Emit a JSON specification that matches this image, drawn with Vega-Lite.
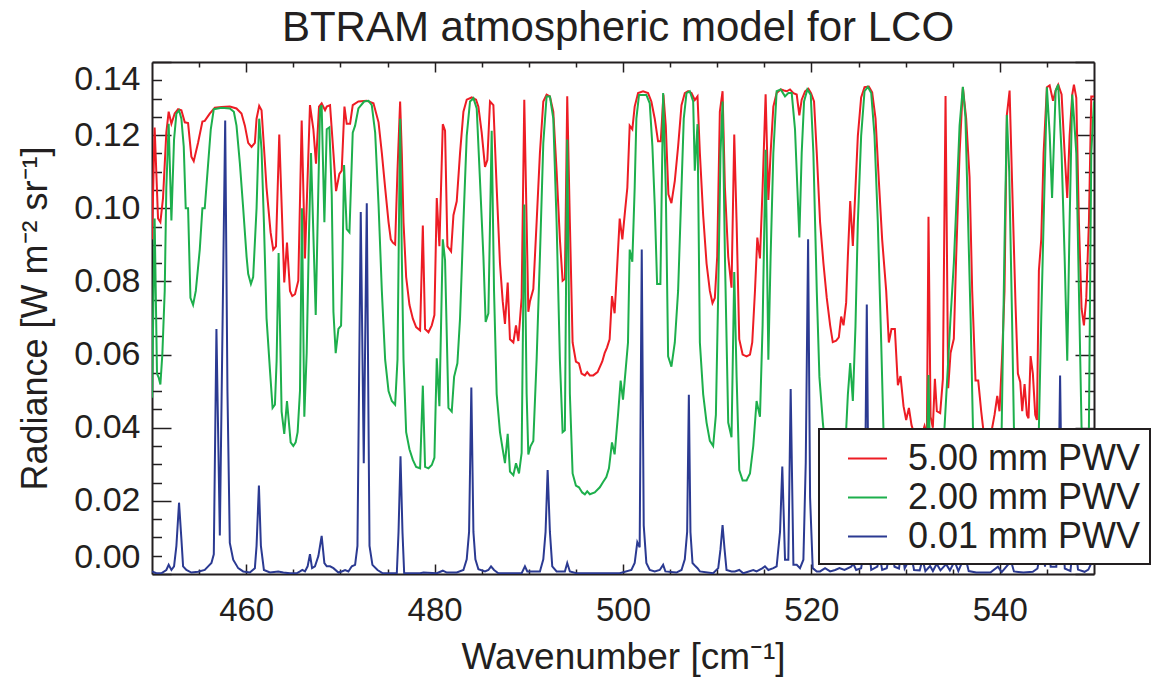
{
  "$schema": "https://vega.github.io/schema/vega-lite/v6.json",
  "width": 942,
  "height": 512,
  "autosize": {"type": "none"},
  "padding": {"left": 152, "top": 62, "right": 64, "bottom": 103},
  "background": "white",
  "config": {"view": {"stroke": null}, "font": "Liberation Sans"},
  "title": {"text": "BTRAM atmospheric model for LCO", "fontSize": 42, "font": "Liberation Sans", "fontWeight": "normal", "color": "#231F20", "anchor": "middle", "frame": "group", "baseline": "alphabetic", "offset": -22, "dx": -5},
  "datasets": {
    "red": [
      {"w":450.0,"r":0.0915},{"w":450.28,"r":0.1221},{"w":450.64,"r":0.0972},{"w":450.89,"r":0.0962},{"w":451.17,"r":0.1028},{"w":451.52,"r":0.1207},{"w":451.77,"r":0.1264},{"w":452.06,"r":0.1231},{"w":452.41,"r":0.1259},{"w":452.77,"r":0.1271},{"w":453.12,"r":0.1268},{"w":453.48,"r":0.1235},{"w":453.83,"r":0.1233},{"w":454.18,"r":0.1141},{"w":454.43,"r":0.1129},{"w":454.89,"r":0.1179},{"w":455.35,"r":0.1237},{"w":455.6,"r":0.1239},{"w":456.13,"r":0.1259},{"w":456.67,"r":0.1275},{"w":457.38,"r":0.1277},{"w":458.26,"r":0.1278},{"w":458.97,"r":0.1273},{"w":459.5,"r":0.1259},{"w":459.86,"r":0.1226},{"w":460.21,"r":0.1179},{"w":460.57,"r":0.1168},{"w":460.92,"r":0.1179},{"w":461.1,"r":0.1245},{"w":461.38,"r":0.128},{"w":461.63,"r":0.1268},{"w":461.88,"r":0.1169},{"w":462.16,"r":0.1056},{"w":462.59,"r":0.0934},{"w":462.87,"r":0.0887},{"w":463.16,"r":0.0896},{"w":463.51,"r":0.1202},{"w":464.04,"r":0.0797},{"w":464.33,"r":0.0906},{"w":464.65,"r":0.0774},{"w":464.89,"r":0.076},{"w":465.18,"r":0.0765},{"w":465.53,"r":0.0802},{"w":465.89,"r":0.124},{"w":466.24,"r":0.0863},{"w":466.77,"r":0.1282},{"w":467.13,"r":0.1216},{"w":467.41,"r":0.1122},{"w":467.73,"r":0.1278},{"w":468.01,"r":0.1287},{"w":468.37,"r":0.1268},{"w":468.55,"r":0.1278},{"w":468.9,"r":0.1282},{"w":469.26,"r":0.1151},{"w":469.54,"r":0.1047},{"w":469.89,"r":0.1094},{"w":470.14,"r":0.1103},{"w":470.43,"r":0.1278},{"w":470.67,"r":0.1231},{"w":471.03,"r":0.1231},{"w":471.31,"r":0.1282},{"w":471.91,"r":0.1292},{"w":472.8,"r":0.1294},{"w":473.51,"r":0.1287},{"w":474.05,"r":0.1235},{"w":474.4,"r":0.1151},{"w":474.75,"r":0.1056},{"w":475.11,"r":0.0962},{"w":475.35,"r":0.0915},{"w":475.57,"r":0.0906},{"w":475.81,"r":0.0901},{"w":476.06,"r":0.1103},{"w":476.34,"r":0.1292},{"w":476.52,"r":0.1151},{"w":476.7,"r":0.0962},{"w":476.98,"r":0.0812},{"w":477.33,"r":0.0736},{"w":477.69,"r":0.0698},{"w":478.04,"r":0.0675},{"w":478.46,"r":0.0666},{"w":478.75,"r":0.0953},{"w":478.99,"r":0.067},{"w":479.35,"r":0.0661},{"w":479.7,"r":0.068},{"w":479.98,"r":0.0708},{"w":480.23,"r":0.1028},{"w":480.51,"r":0.0896},{"w":480.87,"r":0.123},{"w":481.11,"r":0.1212},{"w":481.36,"r":0.0896},{"w":481.75,"r":0.0882},{"w":482.0,"r":0.0981},{"w":482.35,"r":0.1019},{"w":482.7,"r":0.1151},{"w":483.06,"r":0.1264},{"w":483.41,"r":0.1297},{"w":483.94,"r":0.1303},{"w":484.4,"r":0.1297},{"w":484.65,"r":0.1278},{"w":485.0,"r":0.1207},{"w":485.35,"r":0.1113},{"w":485.6,"r":0.1132},{"w":485.88,"r":0.1292},{"w":486.24,"r":0.1282},{"w":486.59,"r":0.1056},{"w":486.94,"r":0.0849},{"w":487.23,"r":0.0746},{"w":487.47,"r":0.0684},{"w":487.76,"r":0.0797},{"w":488.0,"r":0.0642},{"w":488.36,"r":0.0633},{"w":488.64,"r":0.068},{"w":488.89,"r":0.0637},{"w":489.24,"r":0.0755},{"w":489.52,"r":0.1297},{"w":489.77,"r":0.0962},{"w":489.95,"r":0.0717},{"w":490.12,"r":0.0745},{"w":490.48,"r":0.0779},{"w":490.83,"r":0.0962},{"w":491.18,"r":0.1151},{"w":491.54,"r":0.1292},{"w":491.89,"r":0.1311},{"w":492.24,"r":0.1306},{"w":492.6,"r":0.1264},{"w":492.95,"r":0.1103},{"w":493.3,"r":0.0915},{"w":493.59,"r":0.0802},{"w":493.83,"r":0.0807},{"w":494.08,"r":0.1306},{"w":494.36,"r":0.0962},{"w":494.65,"r":0.0633},{"w":495.0,"r":0.0581},{"w":495.32,"r":0.0576},{"w":495.6,"r":0.0548},{"w":495.95,"r":0.0543},{"w":496.2,"r":0.0552},{"w":496.48,"r":0.0543},{"w":496.84,"r":0.0543},{"w":497.3,"r":0.0552},{"w":497.8,"r":0.0581},{"w":498.05,"r":0.0604},{"w":498.3,"r":0.0619},{"w":498.58,"r":0.0642},{"w":498.83,"r":0.076},{"w":499.11,"r":0.0713},{"w":499.36,"r":0.0831},{"w":499.65,"r":0.0972},{"w":499.93,"r":0.0915},{"w":500.21,"r":0.0991},{"w":500.46,"r":0.1056},{"w":500.71,"r":0.1226},{"w":500.99,"r":0.1216},{"w":501.24,"r":0.1278},{"w":501.6,"r":0.1315},{"w":502.13,"r":0.132},{"w":502.66,"r":0.1315},{"w":503.01,"r":0.1292},{"w":503.37,"r":0.1245},{"w":503.72,"r":0.1183},{"w":504.01,"r":0.1183},{"w":504.29,"r":0.1311},{"w":504.54,"r":0.1226},{"w":504.82,"r":0.1038},{"w":505.14,"r":0.1014},{"w":505.5,"r":0.1075},{"w":505.85,"r":0.1169},{"w":506.21,"r":0.1282},{"w":506.56,"r":0.1315},{"w":506.91,"r":0.132},{"w":507.27,"r":0.1315},{"w":507.62,"r":0.1296},{"w":507.91,"r":0.1306},{"w":508.16,"r":0.1151},{"w":508.51,"r":0.0981},{"w":508.87,"r":0.0849},{"w":509.22,"r":0.0774},{"w":509.5,"r":0.0741},{"w":509.75,"r":0.0755},{"w":510.0,"r":0.0868},{"w":510.28,"r":0.1264},{"w":510.57,"r":0.132},{"w":510.82,"r":0.1056},{"w":511.17,"r":0.0868},{"w":511.52,"r":0.0783},{"w":511.81,"r":0.1202},{"w":512.06,"r":0.0962},{"w":512.34,"r":0.0642},{"w":512.7,"r":0.06},{"w":513.12,"r":0.0595},{"w":513.48,"r":0.06},{"w":513.72,"r":0.0633},{"w":514.01,"r":0.0774},{"w":514.26,"r":0.092},{"w":514.54,"r":0.0863},{"w":514.82,"r":0.1056},{"w":515.14,"r":0.1312},{"w":515.43,"r":0.1023},{"w":515.67,"r":0.1151},{"w":515.96,"r":0.1278},{"w":516.31,"r":0.1315},{"w":516.74,"r":0.1325},{"w":517.09,"r":0.1322},{"w":517.38,"r":0.132},{"w":517.73,"r":0.1325},{"w":518.09,"r":0.1315},{"w":518.44,"r":0.1311},{"w":518.72,"r":0.1254},{"w":518.97,"r":0.1297},{"w":519.33,"r":0.132},{"w":519.68,"r":0.1327},{"w":519.96,"r":0.1315},{"w":520.28,"r":0.1292},{"w":520.57,"r":0.1151},{"w":520.92,"r":0.0962},{"w":521.28,"r":0.0849},{"w":521.63,"r":0.0755},{"w":521.99,"r":0.068},{"w":522.27,"r":0.0634},{"w":522.63,"r":0.0638},{"w":522.91,"r":0.0647},{"w":523.16,"r":0.0704},{"w":523.41,"r":0.068},{"w":523.69,"r":0.0742},{"w":523.87,"r":0.0868},{"w":524.12,"r":0.102},{"w":524.4,"r":0.0897},{"w":524.68,"r":0.1056},{"w":524.93,"r":0.1198},{"w":525.28,"r":0.1303},{"w":525.64,"r":0.1331},{"w":526.1,"r":0.1333},{"w":526.45,"r":0.1317},{"w":526.81,"r":0.1245},{"w":527.16,"r":0.1075},{"w":527.51,"r":0.0915},{"w":527.94,"r":0.0774},{"w":528.22,"r":0.0633},{"w":528.5,"r":0.067},{"w":528.86,"r":0.067},{"w":529.18,"r":0.0516},{"w":529.46,"r":0.0541},{"w":529.78,"r":0.0459},{"w":530.06,"r":0.0421},{"w":530.35,"r":0.0454},{"w":530.63,"r":0.0407},{"w":530.95,"r":0.038},{"w":531.19,"r":0.037},{"w":531.48,"r":0.036},{"w":532.01,"r":0.0405},{"w":532.26,"r":0.038},{"w":532.43,"r":0.0977},{"w":532.65,"r":0.043},{"w":532.89,"r":0.04},{"w":533.11,"r":0.0534},{"w":533.32,"r":0.0445},{"w":533.67,"r":0.044},{"w":533.96,"r":0.0534},{"w":534.24,"r":0.1307},{"w":534.52,"r":0.0508},{"w":534.77,"r":0.0604},{"w":535.12,"r":0.0643},{"w":535.37,"r":0.0868},{"w":535.73,"r":0.115},{"w":536.08,"r":0.1331},{"w":536.43,"r":0.1245},{"w":536.79,"r":0.1085},{"w":537.07,"r":0.0774},{"w":537.42,"r":0.0529},{"w":537.71,"r":0.0529},{"w":538.03,"r":0.0444},{"w":538.27,"r":0.039},{"w":538.6,"r":0.035},{"w":538.9,"r":0.036},{"w":539.19,"r":0.04},{"w":539.44,"r":0.0435},{"w":539.73,"r":0.0487},{"w":539.97,"r":0.0445},{"w":540.26,"r":0.0604},{"w":540.5,"r":0.0774},{"w":540.75,"r":0.1255},{"w":541.04,"r":0.1322},{"w":541.32,"r":0.1056},{"w":541.67,"r":0.0736},{"w":541.92,"r":0.0548},{"w":542.17,"r":0.0525},{"w":542.38,"r":0.0445},{"w":542.63,"r":0.0519},{"w":542.88,"r":0.0435},{"w":543.05,"r":0.0426},{"w":543.27,"r":0.0596},{"w":543.51,"r":0.0548},{"w":543.76,"r":0.0435},{"w":543.94,"r":0.0421},{"w":544.15,"r":0.083},{"w":544.4,"r":0.0915},{"w":544.65,"r":0.1151},{"w":545.0,"r":0.1331},{"w":545.29,"r":0.1336},{"w":545.65,"r":0.1294},{"w":545.93,"r":0.1322},{"w":546.2,"r":0.1338},{"w":546.56,"r":0.1311},{"w":546.88,"r":0.1151},{"w":547.16,"r":0.1028},{"w":547.41,"r":0.1198},{"w":547.69,"r":0.1311},{"w":547.87,"r":0.1338},{"w":548.12,"r":0.1302},{"w":548.4,"r":0.0962},{"w":548.68,"r":0.0726},{"w":548.93,"r":0.068},{"w":549.18,"r":0.0755},{"w":549.46,"r":0.0962},{"w":549.71,"r":0.1306},{"w":550.0,"r":0.1306}
    ],
    "green": [
      {"w":450.0,"r":0.0482},{"w":450.28,"r":0.0972},{"w":450.53,"r":0.0548},{"w":450.71,"r":0.0537},{"w":450.89,"r":0.0518},{"w":451.1,"r":0.0602},{"w":451.35,"r":0.0774},{"w":451.52,"r":0.1056},{"w":451.77,"r":0.1231},{"w":452.06,"r":0.0967},{"w":452.34,"r":0.1188},{"w":452.59,"r":0.1259},{"w":452.87,"r":0.1268},{"w":453.12,"r":0.1245},{"w":453.37,"r":0.1169},{"w":453.58,"r":0.1},{"w":453.83,"r":0.1},{"w":454.08,"r":0.0755},{"w":454.36,"r":0.0736},{"w":454.65,"r":0.0774},{"w":455.07,"r":0.0887},{"w":455.35,"r":0.1},{"w":455.6,"r":0.1},{"w":455.96,"r":0.1122},{"w":456.24,"r":0.1216},{"w":456.56,"r":0.1271},{"w":457.38,"r":0.1275},{"w":458.26,"r":0.1273},{"w":458.69,"r":0.1264},{"w":458.97,"r":0.1226},{"w":459.33,"r":0.1122},{"w":459.68,"r":0.1},{"w":460.04,"r":0.0868},{"w":460.21,"r":0.0821},{"w":460.5,"r":0.0793},{"w":460.74,"r":0.0812},{"w":461.1,"r":0.1},{"w":461.38,"r":0.1245},{"w":461.63,"r":0.116},{"w":461.88,"r":0.0962},{"w":462.16,"r":0.0699},{"w":462.52,"r":0.0558},{"w":462.8,"r":0.0454},{"w":463.05,"r":0.0463},{"w":463.23,"r":0.0584},{"w":463.44,"r":0.0878},{"w":463.76,"r":0.0444},{"w":464.04,"r":0.0383},{"w":464.33,"r":0.0473},{"w":464.72,"r":0.036},{"w":465.0,"r":0.035},{"w":465.25,"r":0.036},{"w":465.46,"r":0.0388},{"w":465.71,"r":0.0501},{"w":465.92,"r":0.1},{"w":466.17,"r":0.043},{"w":466.42,"r":0.0604},{"w":466.67,"r":0.0934},{"w":466.88,"r":0.1151},{"w":467.38,"r":0.0708},{"w":467.66,"r":0.1056},{"w":467.84,"r":0.1273},{"w":468.01,"r":0.1282},{"w":468.3,"r":0.0962},{"w":468.55,"r":0.1216},{"w":468.83,"r":0.1221},{"w":469.08,"r":0.1038},{"w":469.26,"r":0.0717},{"w":469.5,"r":0.0604},{"w":469.79,"r":0.067},{"w":470.07,"r":0.0679},{"w":470.21,"r":0.084},{"w":470.39,"r":0.1118},{"w":470.67,"r":0.0943},{"w":470.96,"r":0.0934},{"w":471.31,"r":0.1207},{"w":471.56,"r":0.1226},{"w":471.91,"r":0.1273},{"w":472.52,"r":0.1292},{"w":472.98,"r":0.1294},{"w":473.33,"r":0.1282},{"w":473.69,"r":0.1207},{"w":474.05,"r":0.1009},{"w":474.4,"r":0.0774},{"w":474.75,"r":0.0586},{"w":475.11,"r":0.05},{"w":475.46,"r":0.0473},{"w":475.81,"r":0.0463},{"w":476.06,"r":0.0586},{"w":476.34,"r":0.1245},{"w":476.52,"r":0.0868},{"w":476.7,"r":0.0586},{"w":476.98,"r":0.0388},{"w":477.33,"r":0.0341},{"w":477.69,"r":0.0312},{"w":478.04,"r":0.0293},{"w":478.46,"r":0.0289},{"w":478.75,"r":0.0515},{"w":478.99,"r":0.0293},{"w":479.35,"r":0.0289},{"w":479.7,"r":0.0298},{"w":479.98,"r":0.0318},{"w":480.23,"r":0.059},{"w":480.51,"r":0.0459},{"w":480.87,"r":0.0915},{"w":481.11,"r":0.0858},{"w":481.47,"r":0.0454},{"w":481.82,"r":0.0444},{"w":482.07,"r":0.0539},{"w":482.42,"r":0.0576},{"w":482.7,"r":0.0699},{"w":483.06,"r":0.0962},{"w":483.41,"r":0.1198},{"w":483.76,"r":0.1292},{"w":484.12,"r":0.1301},{"w":484.47,"r":0.1273},{"w":484.82,"r":0.1075},{"w":485.18,"r":0.0868},{"w":485.42,"r":0.0689},{"w":485.71,"r":0.0713},{"w":486.06,"r":0.1212},{"w":486.31,"r":0.0774},{"w":486.59,"r":0.0492},{"w":486.94,"r":0.0388},{"w":487.23,"r":0.0341},{"w":487.47,"r":0.0303},{"w":487.76,"r":0.0383},{"w":488.0,"r":0.028},{"w":488.36,"r":0.027},{"w":488.64,"r":0.0303},{"w":488.96,"r":0.0275},{"w":489.24,"r":0.0331},{"w":489.52,"r":0.101},{"w":489.77,"r":0.0492},{"w":489.95,"r":0.0327},{"w":490.19,"r":0.035},{"w":490.48,"r":0.0364},{"w":490.83,"r":0.0586},{"w":491.18,"r":0.0868},{"w":491.54,"r":0.1179},{"w":491.89,"r":0.1306},{"w":492.24,"r":0.1306},{"w":492.6,"r":0.1245},{"w":492.95,"r":0.0962},{"w":493.3,"r":0.0586},{"w":493.59,"r":0.0388},{"w":493.83,"r":0.0393},{"w":494.08,"r":0.1188},{"w":494.36,"r":0.0492},{"w":494.65,"r":0.0275},{"w":495.0,"r":0.0242},{"w":495.32,"r":0.0237},{"w":495.67,"r":0.0223},{"w":495.95,"r":0.0218},{"w":496.2,"r":0.0226},{"w":496.48,"r":0.0218},{"w":497.0,"r":0.0223},{"w":497.54,"r":0.0237},{"w":497.87,"r":0.0251},{"w":498.23,"r":0.0265},{"w":498.51,"r":0.0289},{"w":498.83,"r":0.036},{"w":499.11,"r":0.0327},{"w":499.47,"r":0.0435},{"w":499.75,"r":0.0529},{"w":500.0,"r":0.0477},{"w":500.28,"r":0.0558},{"w":500.53,"r":0.0633},{"w":500.71,"r":0.0887},{"w":500.99,"r":0.0854},{"w":501.24,"r":0.1056},{"w":501.42,"r":0.1245},{"w":501.7,"r":0.131},{"w":502.48,"r":0.131},{"w":502.84,"r":0.1287},{"w":503.12,"r":0.117},{"w":503.37,"r":0.1009},{"w":503.62,"r":0.0793},{"w":503.97,"r":0.0793},{"w":504.26,"r":0.1315},{"w":504.54,"r":0.1056},{"w":504.79,"r":0.0595},{"w":505.14,"r":0.0567},{"w":505.5,"r":0.0633},{"w":505.85,"r":0.0774},{"w":506.21,"r":0.1056},{"w":506.45,"r":0.1245},{"w":506.74,"r":0.1315},{"w":507.09,"r":0.132},{"w":507.45,"r":0.1292},{"w":507.62,"r":0.1103},{"w":507.91,"r":0.123},{"w":508.16,"r":0.0633},{"w":508.51,"r":0.0492},{"w":508.87,"r":0.0414},{"w":509.22,"r":0.0364},{"w":509.57,"r":0.035},{"w":509.86,"r":0.0435},{"w":510.11,"r":0.0774},{"w":510.35,"r":0.1151},{"w":510.57,"r":0.1292},{"w":510.82,"r":0.0868},{"w":511.17,"r":0.0414},{"w":511.52,"r":0.0374},{"w":511.81,"r":0.0826},{"w":512.06,"r":0.0539},{"w":512.34,"r":0.0284},{"w":512.7,"r":0.0256},{"w":513.12,"r":0.0256},{"w":513.48,"r":0.0275},{"w":513.83,"r":0.035},{"w":514.18,"r":0.0473},{"w":514.54,"r":0.043},{"w":514.82,"r":0.068},{"w":515.14,"r":0.116},{"w":515.43,"r":0.0586},{"w":515.67,"r":0.0868},{"w":515.96,"r":0.1151},{"w":516.31,"r":0.132},{"w":516.74,"r":0.1325},{"w":517.2,"r":0.1306},{"w":517.55,"r":0.1315},{"w":517.91,"r":0.1315},{"w":518.26,"r":0.1216},{"w":518.51,"r":0.1056},{"w":518.72,"r":0.092},{"w":518.97,"r":0.1151},{"w":519.22,"r":0.1292},{"w":519.57,"r":0.1325},{"w":519.93,"r":0.131},{"w":520.21,"r":0.1151},{"w":520.57,"r":0.0774},{"w":520.85,"r":0.0539},{"w":521.21,"r":0.0416},{"w":521.45,"r":0.035},{"w":522.0,"r":0.03},{"w":522.5,"r":0.029},{"w":523.0,"r":0.031},{"w":523.4,"r":0.035},{"w":523.69,"r":0.0395},{"w":523.87,"r":0.049},{"w":524.12,"r":0.0577},{"w":524.4,"r":0.0473},{"w":524.68,"r":0.0678},{"w":524.93,"r":0.0962},{"w":525.28,"r":0.1198},{"w":525.64,"r":0.132},{"w":525.99,"r":0.1332},{"w":526.35,"r":0.1315},{"w":526.7,"r":0.1198},{"w":527.05,"r":0.0962},{"w":527.41,"r":0.0633},{"w":527.65,"r":0.0395},{"w":528.0,"r":0.03},{"w":528.5,"r":0.028},{"w":529.0,"r":0.025},{"w":529.5,"r":0.025},{"w":530.0,"r":0.022},{"w":530.5,"r":0.02},{"w":531.0,"r":0.02},{"w":531.5,"r":0.022},{"w":532.0,"r":0.025},{"w":532.25,"r":0.03},{"w":532.43,"r":0.0544},{"w":532.6,"r":0.03},{"w":533.0,"r":0.025},{"w":533.5,"r":0.03},{"w":534.13,"r":0.04},{"w":534.77,"r":0.07},{"w":535.12,"r":0.085},{"w":535.37,"r":0.1},{"w":535.73,"r":0.1226},{"w":536.08,"r":0.1332},{"w":536.35,"r":0.125},{"w":536.6,"r":0.1},{"w":536.9,"r":0.07},{"w":537.15,"r":0.04},{"w":537.6,"r":0.03},{"w":538.0,"r":0.025},{"w":538.5,"r":0.022},{"w":539.0,"r":0.022},{"w":539.5,"r":0.025},{"w":540.0,"r":0.035},{"w":540.2,"r":0.04},{"w":540.5,"r":0.09},{"w":540.75,"r":0.1255},{"w":541.0,"r":0.11},{"w":541.3,"r":0.07},{"w":541.5,"r":0.04},{"w":542.0,"r":0.03},{"w":542.5,"r":0.028},{"w":543.0,"r":0.025},{"w":543.5,"r":0.028},{"w":544.0,"r":0.035},{"w":544.15,"r":0.04},{"w":544.4,"r":0.07},{"w":544.65,"r":0.0962},{"w":545.0,"r":0.1331},{"w":545.3,"r":0.12},{"w":545.55,"r":0.1028},{"w":545.93,"r":0.1322},{"w":546.2,"r":0.1338},{"w":546.56,"r":0.115},{"w":546.88,"r":0.0868},{"w":547.16,"r":0.0583},{"w":547.41,"r":0.0962},{"w":547.69,"r":0.1311},{"w":547.87,"r":0.125},{"w":548.12,"r":0.1151},{"w":548.4,"r":0.0773},{"w":548.68,"r":0.04},{"w":549.0,"r":0.032},{"w":549.3,"r":0.035},{"w":549.46,"r":0.04},{"w":549.71,"r":0.1151},{"w":550.0,"r":0.1292}
    ],
    "blue": [
      {"w":450.0,"r":0.0007},{"w":450.46,"r":0.0002},{"w":450.99,"r":0.0002},{"w":451.52,"r":0.0011},{"w":451.77,"r":0.0025},{"w":452.06,"r":0.0011},{"w":452.34,"r":0.0021},{"w":452.59,"r":0.0077},{"w":452.87,"r":0.0195},{"w":453.12,"r":0.0096},{"w":453.3,"r":0.0021},{"w":453.65,"r":0.0011},{"w":454.18,"r":0.0004},{"w":454.89,"r":0.0006},{"w":455.6,"r":0.0011},{"w":455.96,"r":0.0021},{"w":456.31,"r":0.003},{"w":456.56,"r":0.0054},{"w":456.84,"r":0.067},{"w":457.2,"r":0.0105},{"w":457.77,"r":0.124},{"w":458.01,"r":0.05},{"w":458.26,"r":0.0085},{"w":458.62,"r":0.0039},{"w":459.15,"r":0.0016},{"w":459.68,"r":0.0007},{"w":460.39,"r":0.0004},{"w":460.92,"r":0.0016},{"w":461.1,"r":0.0077},{"w":461.35,"r":0.0242},{"w":461.56,"r":0.0077},{"w":461.88,"r":0.0011},{"w":462.52,"r":0.0004},{"w":463.4,"r":0.0007},{"w":463.94,"r":0.0004},{"w":464.65,"r":0.0002},{"w":465.35,"r":0.0002},{"w":465.71,"r":0.0007},{"w":465.96,"r":0.0011},{"w":466.24,"r":0.0007},{"w":466.52,"r":0.0021},{"w":466.77,"r":0.0054},{"w":466.99,"r":0.0016},{"w":467.3,"r":0.0021},{"w":467.66,"r":0.0049},{"w":468.01,"r":0.0104},{"w":468.3,"r":0.003},{"w":468.55,"r":0.0021},{"w":468.9,"r":0.0021},{"w":469.26,"r":0.0016},{"w":469.79,"r":0.0004},{"w":470.14,"r":0.0007},{"w":470.5,"r":0.0011},{"w":470.85,"r":0.0007},{"w":471.21,"r":0.0021},{"w":471.56,"r":0.0025},{"w":471.81,"r":0.0077},{"w":472.16,"r":0.099},{"w":472.48,"r":0.0303},{"w":472.8,"r":0.1014},{"w":473.09,"r":0.0077},{"w":473.4,"r":0.0025},{"w":473.94,"r":0.0011},{"w":474.5,"r":0.0002},{"w":475.99,"r":0.0002},{"w":476.17,"r":0.0115},{"w":476.38,"r":0.0322},{"w":476.59,"r":0.0115},{"w":476.77,"r":0.0002},{"w":478.46,"r":0.0002},{"w":478.82,"r":0.0004},{"w":480.23,"r":0.0002},{"w":480.87,"r":0.0009},{"w":481.29,"r":0.0004},{"w":482.35,"r":0.0004},{"w":483.06,"r":0.0011},{"w":483.41,"r":0.004},{"w":483.66,"r":0.0115},{"w":483.9,"r":0.051},{"w":484.12,"r":0.0115},{"w":484.33,"r":0.004},{"w":484.65,"r":0.0013},{"w":485.35,"r":0.0007},{"w":485.71,"r":0.0011},{"w":485.99,"r":0.0021},{"w":486.31,"r":0.0011},{"w":486.77,"r":0.0002},{"w":489.24,"r":0.0002},{"w":489.59,"r":0.0021},{"w":489.84,"r":0.0007},{"w":491.18,"r":0.0007},{"w":491.54,"r":0.004},{"w":491.78,"r":0.0115},{"w":492.0,"r":0.0284},{"w":492.24,"r":0.0115},{"w":492.49,"r":0.0021},{"w":492.95,"r":0.0007},{"w":493.83,"r":0.0007},{"w":494.08,"r":0.003},{"w":494.36,"r":0.0007},{"w":495.07,"r":0.0002},{"w":499.65,"r":0.0002},{"w":500.89,"r":0.0011},{"w":501.24,"r":0.003},{"w":501.52,"r":0.0087},{"w":501.77,"r":0.0073},{"w":501.99,"r":0.0887},{"w":502.2,"r":0.0133},{"w":502.48,"r":0.003},{"w":502.84,"r":0.0011},{"w":503.37,"r":0.0007},{"w":503.9,"r":0.0011},{"w":504.26,"r":0.0025},{"w":504.5,"r":0.0007},{"w":505.67,"r":0.0004},{"w":506.21,"r":0.0011},{"w":506.56,"r":0.004},{"w":506.81,"r":0.0115},{"w":506.99,"r":0.049},{"w":507.16,"r":0.0115},{"w":507.38,"r":0.003},{"w":507.7,"r":0.0021},{"w":507.91,"r":0.0016},{"w":508.16,"r":0.0007},{"w":509.57,"r":0.0002},{"w":510.11,"r":0.0016},{"w":510.35,"r":0.0068},{"w":510.57,"r":0.0134},{"w":510.78,"r":0.0068},{"w":510.99,"r":0.0011},{"w":511.52,"r":0.0007},{"w":511.88,"r":0.0007},{"w":512.34,"r":0.0011},{"w":512.77,"r":0.0002},{"w":513.83,"r":0.0011},{"w":514.18,"r":0.0007},{"w":514.82,"r":0.0016},{"w":515.07,"r":0.0021},{"w":515.43,"r":0.0011},{"w":515.96,"r":0.0016},{"w":516.31,"r":0.0021},{"w":516.67,"r":0.0115},{"w":516.91,"r":0.0294},{"w":517.2,"r":0.0039},{"w":517.55,"r":0.0039},{"w":517.8,"r":0.0506},{"w":518.09,"r":0.0025},{"w":518.44,"r":0.0025},{"w":518.79,"r":0.0016},{"w":519.15,"r":0.0039},{"w":519.4,"r":0.0304},{"w":519.65,"r":0.0915},{"w":519.86,"r":0.0209},{"w":520.14,"r":0.0016},{"w":520.57,"r":0.0007},{"w":520.92,"r":0.0007},{"w":521.45,"r":0.0016},{"w":521.99,"r":0.0007},{"w":522.52,"r":0.0011},{"w":522.98,"r":0.0016},{"w":523.51,"r":0.0011},{"w":524.22,"r":0.002},{"w":524.45,"r":0.0028},{"w":524.75,"r":0.0011},{"w":525.28,"r":0.0016},{"w":525.64,"r":0.0077},{"w":525.88,"r":0.0737},{"w":526.1,"r":0.0077},{"w":526.35,"r":0.0011},{"w":527.0,"r":0.002},{"w":527.25,"r":0.005},{"w":527.51,"r":0.0011},{"w":528.0,"r":0.0016},{"w":528.5,"r":0.0078},{"w":528.82,"r":0.002},{"w":529.3,"r":0.0015},{"w":529.6,"r":0.0075},{"w":529.9,"r":0.0015},{"w":530.6,"r":0.005},{"w":530.9,"r":0.0011},{"w":531.5,"r":0.001},{"w":531.8,"r":0.004},{"w":532.1,"r":0.0008},{"w":532.6,"r":0.0022},{"w":532.9,"r":0.0008},{"w":533.3,"r":0.0028},{"w":533.7,"r":0.001},{"w":534.3,"r":0.0027},{"w":534.7,"r":0.001},{"w":535.2,"r":0.0035},{"w":535.6,"r":0.0008},{"w":536.3,"r":0.005},{"w":536.7,"r":0.0008},{"w":537.5,"r":0.0004},{"w":539.0,"r":0.0004},{"w":539.8,"r":0.002},{"w":540.2,"r":0.0005},{"w":541.2,"r":0.0035},{"w":541.5,"r":0.0007},{"w":542.5,"r":0.0004},{"w":543.5,"r":0.0006},{"w":544.0,"r":0.0015},{"w":544.5,"r":0.009},{"w":544.8,"r":0.002},{"w":545.1,"r":0.012},{"w":545.4,"r":0.002},{"w":546.0,"r":0.002},{"w":546.2,"r":0.015},{"w":546.4,"r":0.0543},{"w":546.6,"r":0.015},{"w":546.9,"r":0.0015},{"w":547.5,"r":0.0008},{"w":547.9,"r":0.011},{"w":548.3,"r":0.0012},{"w":549.0,"r":0.0006},{"w":549.4,"r":0.0012},{"w":550.0,"r":0.0045}
    ]
  },
  "layer": [
    {
      "data": {"name": "red"},
      "mark": {"type": "line", "strokeWidth": 2, "clip": true},
      "encoding": {
        "x": {"field": "w", "type": "quantitative", "scale": {"domain": [450, 550], "nice": false, "zero": false},
          "axis": {"orient": "bottom", "values": [455,460,465,470,475,480,485,490,495,500,505,510,515,520,525,530,535,540,545], "format": "d",
            "labelExpr": "datum.value % 20 == 0 ? datum.label : ''", "labelOverlap": false, "labelFlush": false,
            "tickSize": {"condition": {"test": "datum.value % 20 == 0", "value": -10}, "value": -5},
            "tickColor": "#231F20", "tickWidth": 1.5, "domainColor": "#231F20", "domainWidth": 2, "grid": false,
            "labelFont": "Liberation Sans", "labelFontSize": 33, "labelColor": "#231F20", "labelPadding": 30,
            "title": "Wavenumber [cm⁻¹]", "titleFont": "Liberation Sans", "titleFontSize": 37, "titleFontWeight": "normal", "titleColor": "#231F20",
            "titleBaseline": "alphabetic", "titleY": 94}},
        "y": {"field": "r", "type": "quantitative", "scale": {"domain": [0, 0.14], "nice": false, "zero": false},
          "axis": {"orient": "left", "values": [0,0.005,0.01,0.015,0.02,0.025,0.03,0.035,0.04,0.045,0.05,0.055,0.06,0.065,0.07,0.075,0.08,0.085,0.09,0.095,0.1,0.105,0.11,0.115,0.12,0.125,0.13,0.135,0.14],
            "labelExpr": "round(datum.value*1000) % 20 == 0 ? format(datum.value, '.2f') : ''", "labelOverlap": false, "labelFlush": true,
            "tickSize": {"condition": {"test": "round(datum.value*1000) % 20 == 0", "value": -19}, "value": -9.5},
            "tickColor": "#231F20", "tickWidth": 1.5, "domainColor": "#231F20", "domainWidth": 2, "grid": false,
            "labelFont": "Liberation Sans", "labelFontSize": 34, "labelColor": "#231F20", "labelPadding": 31,
            "title": "Radiance [W m⁻² sr⁻¹]", "titleFont": "Liberation Sans", "titleFontSize": 36, "titleFontWeight": "normal", "titleColor": "#231F20",
            "titleBaseline": "alphabetic", "titleX": -106}},
        "color": {"datum": "5.00 mm PWV", "type": "nominal",
          "scale": {"domain": ["5.00 mm PWV", "2.00 mm PWV", "0.01 mm PWV"], "range": ["#ED1C24", "#1DAF4C", "#2B3A92"]},
          "legend": {"orient": "none", "legendX": 667, "legendY": 367, "title": null, "fillColor": "white", "strokeColor": "#231F20",
            "padding": 9, "symbolType": "stroke", "symbolSize": 1521, "symbolStrokeWidth": 2, "symbolOffset": 19,
            "labelFont": "Liberation Sans", "labelFontSize": 36, "labelColor": "#231F20", "labelOffset": 20, "labelLimit": 400,
            "rowPadding": 0,
            "encode": {"legend": {"update": {"strokeWidth": {"value": 2}}}}}}
      }
    },
    {
      "data": {"name": "green"},
      "mark": {"type": "line", "strokeWidth": 2, "clip": true},
      "encoding": {
        "x": {"field": "w", "type": "quantitative", "scale": {"domain": [450, 550], "nice": false, "zero": false},
          "axis": {"orient": "top", "values": [455,460,465,470,475,480,485,490,495,500,505,510,515,520,525,530,535,540,545], "labels": false,
            "tickSize": {"condition": {"test": "datum.value % 20 == 0", "value": -10}, "value": -5},
            "tickColor": "#231F20", "tickWidth": 1.5, "domainColor": "#231F20", "domainWidth": 2, "grid": false, "title": null}},
        "y": {"field": "r", "type": "quantitative", "scale": {"domain": [0, 0.14], "nice": false, "zero": false},
          "axis": {"orient": "right", "values": [0,0.005,0.01,0.015,0.02,0.025,0.03,0.035,0.04,0.045,0.05,0.055,0.06,0.065,0.07,0.075,0.08,0.085,0.09,0.095,0.1,0.105,0.11,0.115,0.12,0.125,0.13,0.135,0.14], "labels": false,
            "tickSize": {"condition": {"test": "round(datum.value*1000) % 20 == 0", "value": -19}, "value": -9.5},
            "tickColor": "#231F20", "tickWidth": 1.5, "domainColor": "#231F20", "domainWidth": 2, "grid": false, "title": null}},
        "color": {"datum": "2.00 mm PWV", "type": "nominal"}
      }
    },
    {
      "data": {"name": "blue"},
      "mark": {"type": "line", "strokeWidth": 2, "clip": true},
      "encoding": {
        "x": {"field": "w", "type": "quantitative", "scale": {"domain": [450, 550], "nice": false, "zero": false}, "axis": null},
        "y": {"field": "r", "type": "quantitative", "scale": {"domain": [0, 0.14], "nice": false, "zero": false}, "axis": null},
        "color": {"datum": "0.01 mm PWV", "type": "nominal"}
      }
    }
  ],
  "resolve": {"axis": {"x": "independent", "y": "independent"}}
}
